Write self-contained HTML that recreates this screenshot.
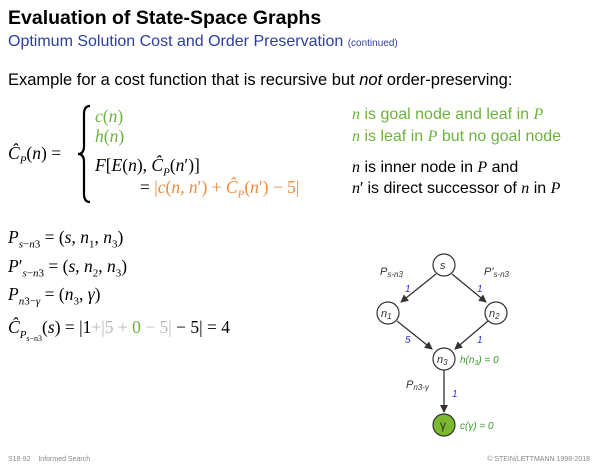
<!DOCTYPE html>
<html><head><meta charset="utf-8"><style>
body{margin:0;width:600px;height:467px;background:#fff;position:relative;overflow:hidden;font-family:"Liberation Sans",sans-serif;}
.a{position:absolute;white-space:nowrap;}
.m{font-family:"Liberation Serif",serif;font-size:17.5px;}
.g{color:#6cb33e}.o{color:#f08a3a}.l{color:#bbb}
i{font-style:italic}
sub{font-size:11px}
.r{font-size:16px;left:352px}
.r i{font-family:"Liberation Serif",serif}
</style></head><body>
<div class="a" style="left:8px;top:7px;font-size:19.5px;font-weight:bold;">Evaluation of State-Space Graphs</div>
<div class="a" style="left:8px;top:33px;font-size:16px;color:#2b3fa0;">Optimum Solution Cost and Order Preservation <span style="font-size:10px;color:#2b3fa0">(continued)</span></div>
<div class="a" style="left:8px;top:71px;font-size:16.5px;">Example for a cost function that is recursive but <i>not</i> order-preserving:</div>

<div class="a m" style="left:8px;top:143px;"><i>Ĉ<sub>P</sub></i>(<i>n</i>) =</div>
<svg class="a" style="left:76px;top:104px" width="20" height="100"><path d="M14 2 Q8 2 8 10 L8 42 Q8 50 2 50 Q8 50 8 58 L8 90 Q8 98 14 98" fill="none" stroke="#000" stroke-width="2.2"/></svg>
<div class="a m g" style="left:95px;top:106px;"><i>c</i>(<i>n</i>)</div>
<div class="a m g" style="left:95px;top:126px;"><i>h</i>(<i>n</i>)</div>
<div class="a m" style="left:95px;top:155px;"><i>F</i>[<i>E</i>(<i>n</i>), <i>Ĉ<sub>P</sub></i>(<i>n</i>′)]</div>
<div class="a m o" style="left:140px;top:177px;"><span style="color:#000">=</span> |<i>c</i>(<i>n</i>, <i>n</i>′) + <i>Ĉ<sub>P</sub></i>(<i>n</i>′) − 5|</div>
<div class="a g r" style="top:106px;"><i>n</i> is goal node and leaf in <i>P</i></div>
<div class="a g r" style="top:128px;"><i>n</i> is leaf in <i>P</i> but no goal node</div>
<div class="a r" style="top:159px;"><i>n</i> is inner node in <i>P</i> and</div>
<div class="a r" style="top:180px;"><i>n</i>′ is direct successor of <i>n</i> in <i>P</i></div>

<div class="a m" style="left:8px;top:227px;"><i>P</i><sub><i>s</i>−<i>n</i>3</sub> = (<i>s</i>, <i>n</i><sub>1</sub>, <i>n</i><sub>3</sub>)</div>
<div class="a m" style="left:8px;top:256px;"><i>P</i>′<sub><i>s</i>−<i>n</i>3</sub> = (<i>s</i>, <i>n</i><sub>2</sub>, <i>n</i><sub>3</sub>)</div>
<div class="a m" style="left:8px;top:284px;"><i>P</i><sub><i>n</i>3−<i>γ</i></sub> = (<i>n</i><sub>3</sub>, <i>γ</i>)</div>
<div class="a m" style="left:8px;top:317px;"><i>Ĉ</i><sub><i>P</i><sub style="font-size:8px">s−n3</sub></sub>(<i>s</i>) = |1<span class="l">+|5 + </span><span class="g">0</span><span class="l"> − 5|</span> − 5| = 4</div>

<svg class="a" style="left:0;top:0" width="600" height="467">
<defs><marker id="ar" markerWidth="8" markerHeight="8" refX="7" refY="4" orient="auto" markerUnits="userSpaceOnUse"><path d="M0 0 L8 4 L0 8z" fill="#333"/></marker></defs>
<g stroke="#333" stroke-width="1.3" marker-end="url(#ar)">
<line x1="436" y1="274" x2="401" y2="302"/>
<line x1="452" y1="274" x2="486" y2="302"/>
<line x1="397" y1="321" x2="432" y2="349"/>
<line x1="488" y1="321" x2="455" y2="349"/>
<line x1="444" y1="368" x2="444" y2="412"/>
</g>
<g stroke="#333" stroke-width="1.2" fill="#fff">
<circle cx="444" cy="265" r="11"/><circle cx="388" cy="313" r="11"/><circle cx="496" cy="313" r="11"/><circle cx="444" cy="359" r="11"/>
<circle cx="444" cy="425" r="11" fill="#7ab82e"/>
</g>
<g font-family="Liberation Sans" font-style="italic" font-size="11" fill="#333">
<text x="440" y="269">s</text>
<text x="381" y="317">n<tspan font-size="8" dy="2">1</tspan></text>
<text x="489" y="317">n<tspan font-size="8" dy="2">2</tspan></text>
<text x="437" y="363">n<tspan font-size="8" dy="2">3</tspan></text>
<text x="440" y="429" font-style="normal" font-size="12">γ</text>
<text x="380" y="275">P<tspan font-size="8" dy="2">s-n3</tspan></text>
<text x="484" y="275">P'<tspan font-size="8" dy="2">s-n3</tspan></text>
<text x="406" y="388">P<tspan font-size="8" dy="2">n3-γ</tspan></text>
</g>
<g font-family="Liberation Sans" font-style="italic" font-size="10" fill="#3333dd">
<text x="405" y="292">1</text><text x="477" y="292">1</text><text x="405" y="343">5</text><text x="477" y="343">1</text><text x="452" y="397">1</text>
</g>
<g font-family="Liberation Sans" font-style="italic" font-size="10" fill="#3a9a2a">
<text x="460" y="363">h(n<tspan font-size="7" dy="2">3</tspan><tspan dy="-2">) = 0</tspan></text>
<text x="460" y="429">c(γ) = 0</text>
</g>
</svg>
<div class="a" style="left:8px;top:456px;font-size:7px;color:#888;">S18-92 &nbsp;&nbsp;&nbsp;Informed Search</div>
<div class="a" style="right:10px;top:456px;font-size:7px;color:#888;">© STEIN/LETTMANN 1998-2018</div>
</body></html>
